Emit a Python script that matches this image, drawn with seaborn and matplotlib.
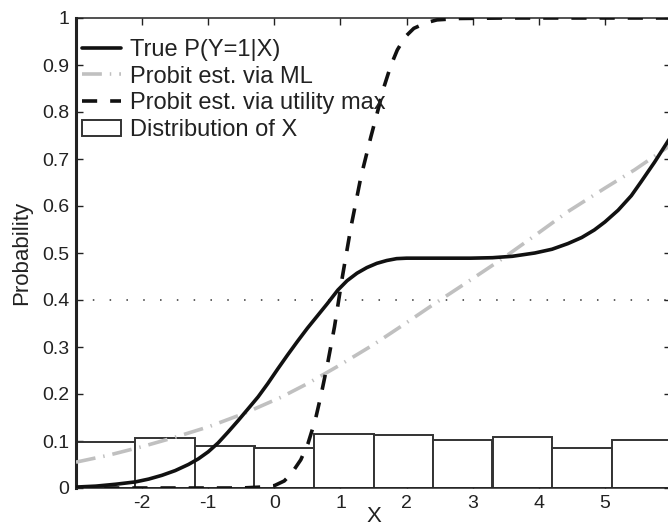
import numpy as np
import seaborn as sns
from matplotlib import pyplot as plt

# histogram of X (bin edges and bar heights)
bin_edges = [-3.0, -2.1, -1.2, -0.3, 0.6, 1.5, 2.4, 3.3, 4.2, 5.1, 6.0]
bin_heights = [0.098, 0.106, 0.090, 0.086, 0.115, 0.113, 0.102, 0.108, 0.086, 0.102]

# true P(Y=1|X)
true_x = [-3.0, -2.7, -2.4, -2.1, -1.9, -1.7, -1.5, -1.3, -1.15, -1.0, -0.85, -0.7, -0.55, -0.4, -0.245,
          -0.1, 0.05, 0.2, 0.35, 0.5, 0.65, 0.8, 0.96, 1.1, 1.25, 1.4, 1.55, 1.7, 1.85, 2.0, 2.5, 2.97,
          3.3, 3.6, 3.94, 4.2, 4.44, 4.65, 4.84, 5.0, 5.2, 5.4, 5.55, 5.75, 5.9, 6.0]
true_y = [0.002, 0.004, 0.008, 0.013, 0.019, 0.027, 0.037, 0.050, 0.062, 0.077, 0.096, 0.119, 0.143, 0.168, 0.194,
          0.222, 0.253, 0.283, 0.312, 0.340, 0.366, 0.392, 0.421, 0.441, 0.457, 0.469, 0.478, 0.484, 0.488, 0.489, 0.489, 0.489,
          0.490, 0.493, 0.500, 0.508, 0.520, 0.533, 0.549, 0.566, 0.591, 0.622, 0.652, 0.693, 0.726, 0.748]

# probit estimated by maximum likelihood
ml_x = [-3.0, -2.5, -2.0, -1.55, -1.0, -0.45, 0.1, 0.5, 0.96, 1.5, 1.96, 2.4, 2.94, 3.44, 3.9, 4.44, 5.0, 5.45, 6.0]
ml_y = [0.055, 0.070, 0.088, 0.106, 0.130, 0.159, 0.193, 0.222, 0.259, 0.305, 0.348, 0.390, 0.440, 0.487, 0.533, 0.588, 0.638, 0.677, 0.730]

# probit estimated by utility maximisation
um_x = [-3.0, -1.5, -0.5, -0.2, 0.0, 0.15, 0.26, 0.4, 0.51, 0.62, 0.71, 0.81, 0.91, 1.03, 1.16, 1.31,
        1.46, 1.56, 1.66, 1.76, 1.86, 1.98, 2.11, 2.3, 2.46, 2.8, 3.5, 6.0]
um_y = [0.0, 0.0, 0.0, 0.002, 0.005, 0.015, 0.031, 0.060, 0.095, 0.145, 0.200, 0.268, 0.343, 0.450, 0.556, 0.662,
        0.747, 0.800, 0.854, 0.898, 0.932, 0.960, 0.978, 0.990, 0.996, 0.999, 1.0, 1.0]

tick_x = [-2, -1, 0, 1, 2, 3, 4, 5]
tick_y = [0, 0.1, 0.2, 0.3, 0.4, 0.5, 0.6, 0.7, 0.8, 0.9, 1]
ref_level = 0.4

sns.set_style('ticks')
plt.rcParams['font.family'] = ['Liberation Sans', 'DejaVu Sans']
plt.rcParams['axes.unicode_minus'] = False

fig = plt.figure(figsize=(6.68, 5.27), dpi=100)
ax = fig.add_axes([76 / 668, 39 / 527, 595 / 668, 470 / 527])

centers = [(a + b) / 2 for a, b in zip(bin_edges[:-1], bin_edges[1:])]
sns.histplot(x=centers, weights=bin_heights, bins=bin_edges, ax=ax, color='white', alpha=1,
             edgecolor='#333333', linewidth=1.4, label='Distribution of X', zorder=1)

ax.axhline(ref_level, color='#333333', linewidth=1.1, linestyle=(0, (1, 10)), zorder=2)

sns.lineplot(x=true_x, y=true_y, ax=ax, color='#111111', linewidth=2.6, sort=False,
             label='True P(Y=1|X)', zorder=4)
sns.lineplot(x=ml_x, y=ml_y, ax=ax, color='#c0c0c0', linewidth=2.6, sort=False,
             linestyle=(0, (5.5, 2.2, 0.4, 2.2)), label='Probit est. via ML', zorder=3)
sns.lineplot(x=um_x, y=um_y, ax=ax, color='#111111', linewidth=2.6, sort=False,
             linestyle=(0, (4.2, 3.6)), label='Probit est. via utility max', zorder=5)

ax.set_xlim(-3, 6)
ax.set_ylim(0, 1)
ax.set_xticks(tick_x)
ax.set_yticks(tick_y)
ax.set_yticklabels(['0', '0.1', '0.2', '0.3', '0.4', '0.5', '0.6', '0.7', '0.8', '0.9', '1'])
ax.tick_params(direction='in', length=5, width=1, colors='#222222', labelsize=14,
               top=True, right=True, labelcolor='#222222', pad=5)
for side in ['top', 'right', 'bottom']:
    ax.spines[side].set_linewidth(1.1)
    ax.spines[side].set_color('#222222')
ax.spines['left'].set_linewidth(2.2)
ax.spines['left'].set_color('#222222')

ax.set_xlabel('X', fontsize=16, color='#222222', labelpad=-4.5)
ax.set_ylabel('Probability', fontsize=16, color='#222222', labelpad=7)

lines = ax.get_lines()
handles = [lines[1], lines[2], lines[3], ax.patches[0]]
labels = ['True P(Y=1|X)', 'Probit est. via ML', 'Probit est. via utility max', 'Distribution of X']
ax.legend(handles, labels, loc='upper left', bbox_to_anchor=(0.01, 1 - 21 / 470), frameon=False,
          fontsize=17, borderaxespad=0, borderpad=0, handlelength=1.65, handletextpad=0.4,
          labelspacing=0.2, labelcolor='#222222')

fig.savefig('out.png', dpi=100)
